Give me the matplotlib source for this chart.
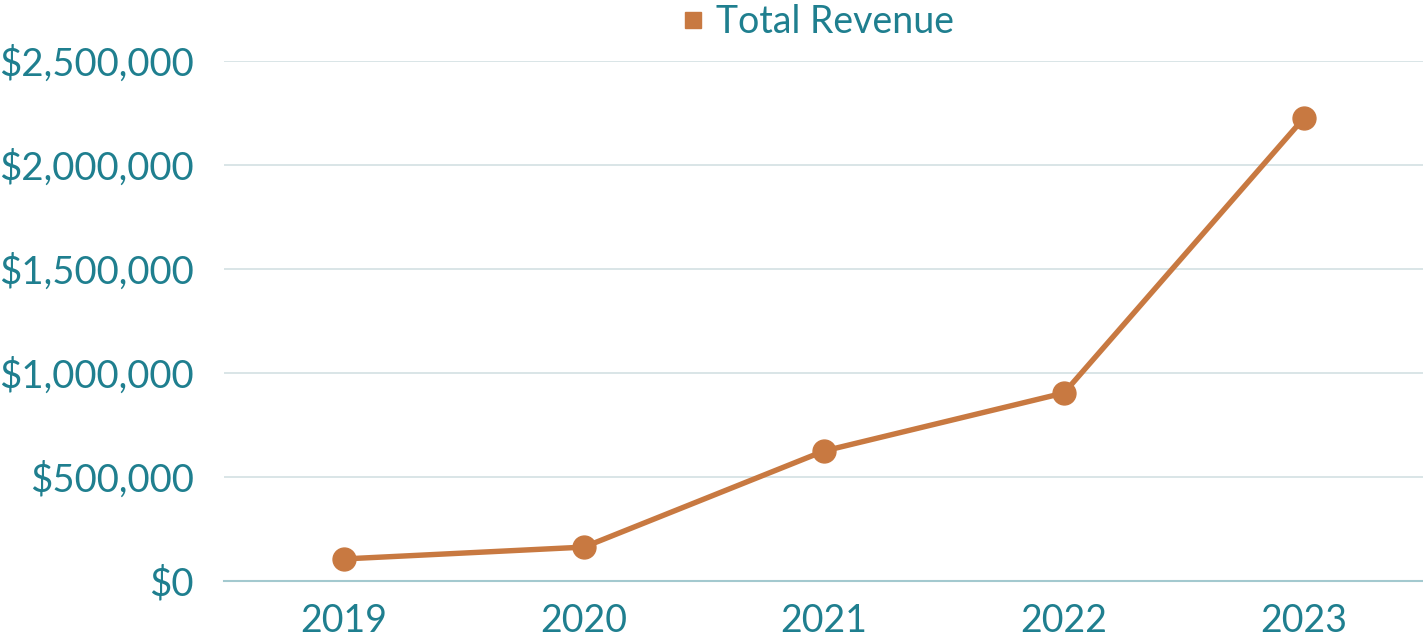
import matplotlib
matplotlib.use("Agg")
import matplotlib.pyplot as plt
from matplotlib.ticker import FuncFormatter
from matplotlib.lines import Line2D

years = ["2019", "2020", "2021", "2022", "2023"]
revenue = [106000, 163000, 625000, 904000, 2226000]
yticks = [0, 500000, 1000000, 1500000, 2000000, 2500000]
series_name = "Total Revenue"

teal = "#1F7F8F"
orange = "#C87941"
grid_c = "#D3E0E3"

plt.rcParams['font.family'] = ['Lato', 'DejaVu Sans']

fig = plt.figure(figsize=(14.23, 6.37), dpi=100)
ax = fig.add_axes([224/1423, 1 - 581/637, 1200/1423, 520/637])

x = list(range(len(years)))
ax.plot(x, revenue, color=orange, lw=3.9, marker='o', markersize=16.5,
        solid_capstyle='round', zorder=3)

ax.set_xlim(-0.5, len(years) - 0.5)
ax.set_ylim(0, 2500000)
ax.set_yticks(yticks)
ax.yaxis.set_major_formatter(FuncFormatter(lambda v, p: f"${v:,.0f}"))
ax.set_xticks(x)
ax.set_xticklabels(years)
ax.tick_params(axis='both', length=0, labelsize=27, labelcolor=teal)
ax.tick_params(axis='y', pad=22, labelsize=27.6)
ax.tick_params(axis='x', pad=15.5)
ax.grid(axis='y', color=grid_c, lw=1.2)
ax.set_axisbelow(True)
for s in ['top', 'right', 'left']:
    ax.spines[s].set_visible(False)
ax.spines['bottom'].set_color('#A3C9CF')
ax.spines['bottom'].set_linewidth(1.5)

handle = Line2D([], [], color=orange, marker='s', linestyle='None', markersize=11)
fig.legend([handle], [series_name], loc='upper center', bbox_to_anchor=(0.572, 1.046),
           frameon=False, fontsize=27, labelcolor=teal, handletextpad=0.1,
           handlelength=1.0)

fig.savefig("out.png", dpi=100, facecolor='white')
